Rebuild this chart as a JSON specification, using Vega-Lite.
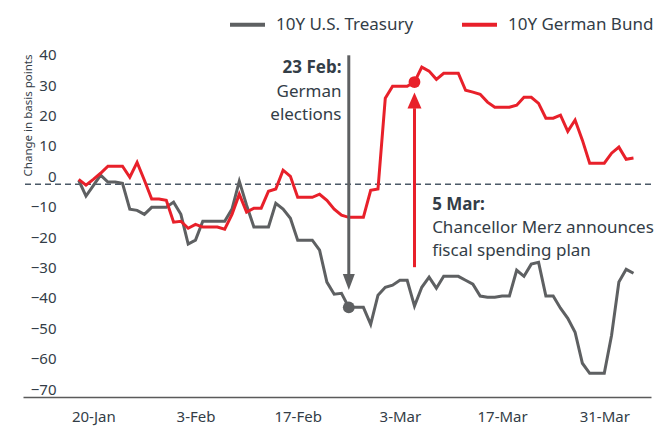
{
  "$schema": "https://vega.github.io/schema/vega-lite/v6.json",
  "width": 628,
  "height": 342,
  "autosize": {"type": "none"},
  "padding": {"left": 23, "top": 55, "right": 14, "bottom": 30},
  "background": "white",
  "config": {"view": {"stroke": null}, "font": "Noto Sans"},
  "resolve": {"axis": {"x": "independent", "y": "independent"}},
  "layer": [
    {
      "data": {"values": [{"value": 0}]},
      "mark": {"type": "rule", "strokeDash": [6, 4], "strokeWidth": 1.5, "color": "#4A5866"},
      "encoding": {"y": {"datum": 0, "type": "quantitative", "axis": null}}
    },
    {
      "data": {"values": [
        {"date": "2025-01-18", "ust": 1.3, "bund": 1.6},
        {"date": "2025-01-19", "ust": -3.9, "bund": -0.3},
        {"date": "2025-01-20", "ust": -0.5, "bund": 1.6},
        {"date": "2025-01-21", "ust": 3.0, "bund": 3.6},
        {"date": "2025-01-22", "ust": 0.7, "bund": 5.9},
        {"date": "2025-01-23", "ust": 0.7, "bund": 5.9},
        {"date": "2025-01-24", "ust": 0.3, "bund": 5.9},
        {"date": "2025-01-25", "ust": -8.2, "bund": 2.3},
        {"date": "2025-01-26", "ust": -8.6, "bund": 7.2},
        {"date": "2025-01-27", "ust": -9.9, "bund": 1.3},
        {"date": "2025-01-28", "ust": -7.6, "bund": -4.9},
        {"date": "2025-01-29", "ust": -7.6, "bund": -4.9},
        {"date": "2025-01-30", "ust": -7.6, "bund": -5.3},
        {"date": "2025-01-31", "ust": -5.9, "bund": -12.5},
        {"date": "2025-02-01", "ust": -9.9, "bund": -12.2},
        {"date": "2025-02-02", "ust": -19.7, "bund": -14.5},
        {"date": "2025-02-03", "ust": -18.4, "bund": -13.2},
        {"date": "2025-02-04", "ust": -12.2, "bund": -14.1},
        {"date": "2025-02-05", "ust": -12.2, "bund": -14.1},
        {"date": "2025-02-06", "ust": -12.2, "bund": -14.1},
        {"date": "2025-02-07", "ust": -12.2, "bund": -14.8},
        {"date": "2025-02-08", "ust": -8.2, "bund": -9.9},
        {"date": "2025-02-09", "ust": 1.0, "bund": -3.3},
        {"date": "2025-02-10", "ust": -6.9, "bund": -9.2},
        {"date": "2025-02-11", "ust": -14.1, "bund": -7.9},
        {"date": "2025-02-12", "ust": -14.1, "bund": -7.9},
        {"date": "2025-02-13", "ust": -14.1, "bund": -2.3},
        {"date": "2025-02-14", "ust": -6.3, "bund": -1.6},
        {"date": "2025-02-15", "ust": -8.2, "bund": 4.6},
        {"date": "2025-02-16", "ust": -11.2, "bund": 2.6},
        {"date": "2025-02-17", "ust": -18.4, "bund": -4.3},
        {"date": "2025-02-18", "ust": -18.4, "bund": -4.3},
        {"date": "2025-02-19", "ust": -18.4, "bund": -4.3},
        {"date": "2025-02-20", "ust": -21.7, "bund": -3.3},
        {"date": "2025-02-21", "ust": -32.2, "bund": -5.3},
        {"date": "2025-02-22", "ust": -36.2, "bund": -8.2},
        {"date": "2025-02-23", "ust": -35.9, "bund": -10.2},
        {"date": "2025-02-24", "ust": -40.5, "bund": -10.9},
        {"date": "2025-02-25", "ust": -40.5, "bund": -10.9},
        {"date": "2025-02-26", "ust": -40.5, "bund": -10.9},
        {"date": "2025-02-27", "ust": -46.1, "bund": -2.0},
        {"date": "2025-02-28", "ust": -36.5, "bund": -1.6},
        {"date": "2025-03-01", "ust": -33.9, "bund": 28.3},
        {"date": "2025-03-02", "ust": -33.2, "bund": 32.2},
        {"date": "2025-03-03", "ust": -31.6, "bund": 32.2},
        {"date": "2025-03-04", "ust": -31.6, "bund": 32.2},
        {"date": "2025-03-05", "ust": -40.1, "bund": 33.6},
        {"date": "2025-03-06", "ust": -33.9, "bund": 38.5},
        {"date": "2025-03-07", "ust": -30.6, "bund": 37.2},
        {"date": "2025-03-08", "ust": -34.2, "bund": 34.5},
        {"date": "2025-03-09", "ust": -30.3, "bund": 36.5},
        {"date": "2025-03-10", "ust": -30.3, "bund": 36.5},
        {"date": "2025-03-11", "ust": -30.3, "bund": 36.5},
        {"date": "2025-03-12", "ust": -31.6, "bund": 30.9},
        {"date": "2025-03-13", "ust": -32.9, "bund": 30.3},
        {"date": "2025-03-14", "ust": -36.8, "bund": 29.6},
        {"date": "2025-03-15", "ust": -37.2, "bund": 27.0},
        {"date": "2025-03-16", "ust": -37.2, "bund": 25.3},
        {"date": "2025-03-17", "ust": -36.8, "bund": 25.3},
        {"date": "2025-03-18", "ust": -36.8, "bund": 25.3},
        {"date": "2025-03-19", "ust": -28.3, "bund": 26.0},
        {"date": "2025-03-20", "ust": -30.3, "bund": 28.6},
        {"date": "2025-03-21", "ust": -26.3, "bund": 28.6},
        {"date": "2025-03-22", "ust": -25.7, "bund": 26.6},
        {"date": "2025-03-23", "ust": -36.8, "bund": 21.7},
        {"date": "2025-03-24", "ust": -36.8, "bund": 21.7},
        {"date": "2025-03-25", "ust": -40.8, "bund": 22.7},
        {"date": "2025-03-26", "ust": -44.1, "bund": 17.4},
        {"date": "2025-03-27", "ust": -48.7, "bund": 21.1},
        {"date": "2025-03-28", "ust": -58.9, "bund": 14.5},
        {"date": "2025-03-29", "ust": -62.2, "bund": 6.9},
        {"date": "2025-03-30", "ust": -62.2, "bund": 6.9},
        {"date": "2025-03-31", "ust": -62.2, "bund": 6.9},
        {"date": "2025-04-01", "ust": -49.7, "bund": 10.2},
        {"date": "2025-04-02", "ust": -32.2, "bund": 12.2},
        {"date": "2025-04-03", "ust": -28.0, "bund": 8.2},
        {"date": "2025-04-04", "ust": -29.3, "bund": 8.6}
      ]},
      "transform": [{"fold": ["ust", "bund"], "as": ["series", "value"]}],
      "mark": {"type": "line", "strokeWidth": 3},
      "encoding": {
        "x": {
          "field": "date", "type": "temporal", "title": null,
          "scale": {"type": "utc", "domain": [
            {"year": 2025, "month": 1, "date": 10, "hours": 8, "minutes": 53, "utc": true},
            {"year": 2025, "month": 4, "date": 6, "hours": 9, "minutes": 36, "utc": true}
          ]},
          "axis": {
            "values": [
              {"year": 2025, "month": 1, "date": 20, "utc": true},
              {"year": 2025, "month": 2, "date": 3, "utc": true},
              {"year": 2025, "month": 2, "date": 17, "utc": true},
              {"year": 2025, "month": 3, "date": 3, "utc": true},
              {"year": 2025, "month": 3, "date": 17, "utc": true},
              {"year": 2025, "month": 3, "date": 31, "utc": true}
            ],
            "format": "%-d-%b",
            "grid": false, "ticks": false, "tickSize": 0,
            "domain": true, "domainColor": "#5A5A5A", "domainWidth": 1.5,
            "labelFontSize": 15, "labelColor": "#333D47", "labelPadding": 12,
            "labelFont": "Noto Sans", "labelOverlap": false
          }
        },
        "y": {
          "field": "value", "type": "quantitative", "title": "Change in basis points",
          "scale": {"domain": [-70, 42.5], "nice": false, "zero": false},
          "axis": {
            "values": [-70, -60, -50, -40, -30, -20, -10, 0, 10, 20, 30, 40],
            "grid": false, "ticks": false, "tickSize": 0, "domain": false,
            "offset": -35, "labelPadding": 2, "labelOffset": -8, "labelOverlap": false,
            "labelFontSize": 15, "labelColor": "#333D47", "labelFont": "Noto Sans",
            "titleFontSize": 11.5, "titleFontWeight": "normal", "titleColor": "#333D47",
            "titleFont": "Noto Sans", "titleX": -30, "titleY": 60,
            "titleAlign": "center", "titleBaseline": "middle", "titleAngle": -90
          }
        },
        "color": {
          "field": "series", "type": "nominal",
          "scale": {"domain": ["ust", "bund"], "range": ["#5E6062", "#E8202A"]},
          "legend": {
            "title": null, "orient": "none", "legendX": 205, "legendY": -50,
            "direction": "horizontal", "symbolType": "stroke", "symbolStrokeWidth": 4,
            "symbolSize": 1225, "labelFontSize": 17, "labelColor": "#333D47",
            "labelFont": "Noto Sans", "labelOffset": 9, "columnPadding": 40,
            "labelExpr": "datum.value === 'ust' ? '10Y U.S. Treasury' : '10Y German Bund'"
          }
        }
      }
    },
    {
      "data": {"values": [{"date": "2025-02-24", "value": 42.4, "value2": -29.6}]},
      "mark": {"type": "rule", "strokeWidth": 3, "color": "#5E6062"},
      "encoding": {
        "x": {"field": "date", "type": "temporal", "axis": null},
        "y": {"field": "value", "type": "quantitative", "axis": null},
        "y2": {"field": "value2"}
      }
    },
    {
      "data": {"values": [{"date": "2025-03-05", "value": -27.3, "value2": 25}]},
      "mark": {"type": "rule", "strokeWidth": 3, "color": "#E8202A"},
      "encoding": {
        "x": {"field": "date", "type": "temporal", "axis": null},
        "y": {"field": "value", "type": "quantitative", "axis": null},
        "y2": {"field": "value2"}
      }
    },
    {
      "data": {"values": [{"date": "2025-02-24", "value": -32.2}]},
      "mark": {"type": "point", "shape": "M -0.75 -1 L 0.75 -1 L 0 1 Z", "filled": true, "opacity": 1, "size": 256, "color": "#5E6062"},
      "encoding": {
        "x": {"field": "date", "type": "temporal", "axis": null},
        "y": {"field": "value", "type": "quantitative", "axis": null}
      }
    },
    {
      "data": {"values": [{"date": "2025-03-05", "value": 27.5}]},
      "mark": {"type": "point", "shape": "M -0.875 1 L 0.875 1 L 0 -1 Z", "filled": true, "opacity": 1, "size": 256, "color": "#E8202A"},
      "encoding": {
        "x": {"field": "date", "type": "temporal", "axis": null},
        "y": {"field": "value", "type": "quantitative", "axis": null}
      }
    },
    {
      "data": {"values": [{"date": "2025-02-24", "value": -40.5}]},
      "mark": {"type": "circle", "opacity": 1, "size": 140, "color": "#5E6062"},
      "encoding": {
        "x": {"field": "date", "type": "temporal", "axis": null},
        "y": {"field": "value", "type": "quantitative", "axis": null}
      }
    },
    {
      "data": {"values": [{"date": "2025-03-05", "value": 33.6}]},
      "mark": {"type": "circle", "opacity": 1, "size": 140, "color": "#E8202A"},
      "encoding": {
        "x": {"field": "date", "type": "temporal", "axis": null},
        "y": {"field": "value", "type": "quantitative", "axis": null}
      }
    },
    {
      "data": {"values": [{"date": "2025-02-23", "value": 38.2, "label": "23 Feb:"}]},
      "mark": {"type": "text", "align": "right", "baseline": "middle", "fontSize": 17, "fontWeight": "bold", "color": "#333D47", "font": "Noto Sans"},
      "encoding": {
        "x": {"field": "date", "type": "temporal", "axis": null},
        "y": {"field": "value", "type": "quantitative", "axis": null},
        "text": {"field": "label"}
      }
    },
    {
      "data": {"values": [
        {"date": "2025-02-23", "value": 30.3, "label": "German"},
        {"date": "2025-02-23", "value": 22.7, "label": "elections"}
      ]},
      "mark": {"type": "text", "align": "right", "baseline": "middle", "fontSize": 17, "color": "#333D47", "font": "Noto Sans"},
      "encoding": {
        "x": {"field": "date", "type": "temporal", "axis": null},
        "y": {"field": "value", "type": "quantitative", "axis": null},
        "text": {"field": "label"}
      }
    },
    {
      "data": {"values": [{"date": "2025-03-07T10:00:00Z", "value": -6.9, "label": "5 Mar:"}]},
      "mark": {"type": "text", "align": "left", "baseline": "middle", "fontSize": 17, "fontWeight": "bold", "color": "#333D47", "font": "Noto Sans"},
      "encoding": {
        "x": {"field": "date", "type": "temporal", "axis": null},
        "y": {"field": "value", "type": "quantitative", "axis": null},
        "text": {"field": "label"}
      }
    },
    {
      "data": {"values": [
        {"date": "2025-03-07T10:00:00Z", "value": -14.5, "label": "Chancellor Merz announces"},
        {"date": "2025-03-07T10:00:00Z", "value": -22.0, "label": "fiscal spending plan"}
      ]},
      "mark": {"type": "text", "align": "left", "baseline": "middle", "fontSize": 17, "color": "#333D47", "font": "Noto Sans"},
      "encoding": {
        "x": {"field": "date", "type": "temporal", "axis": null},
        "y": {"field": "value", "type": "quantitative", "axis": null},
        "text": {"field": "label"}
      }
    }
  ]
}
